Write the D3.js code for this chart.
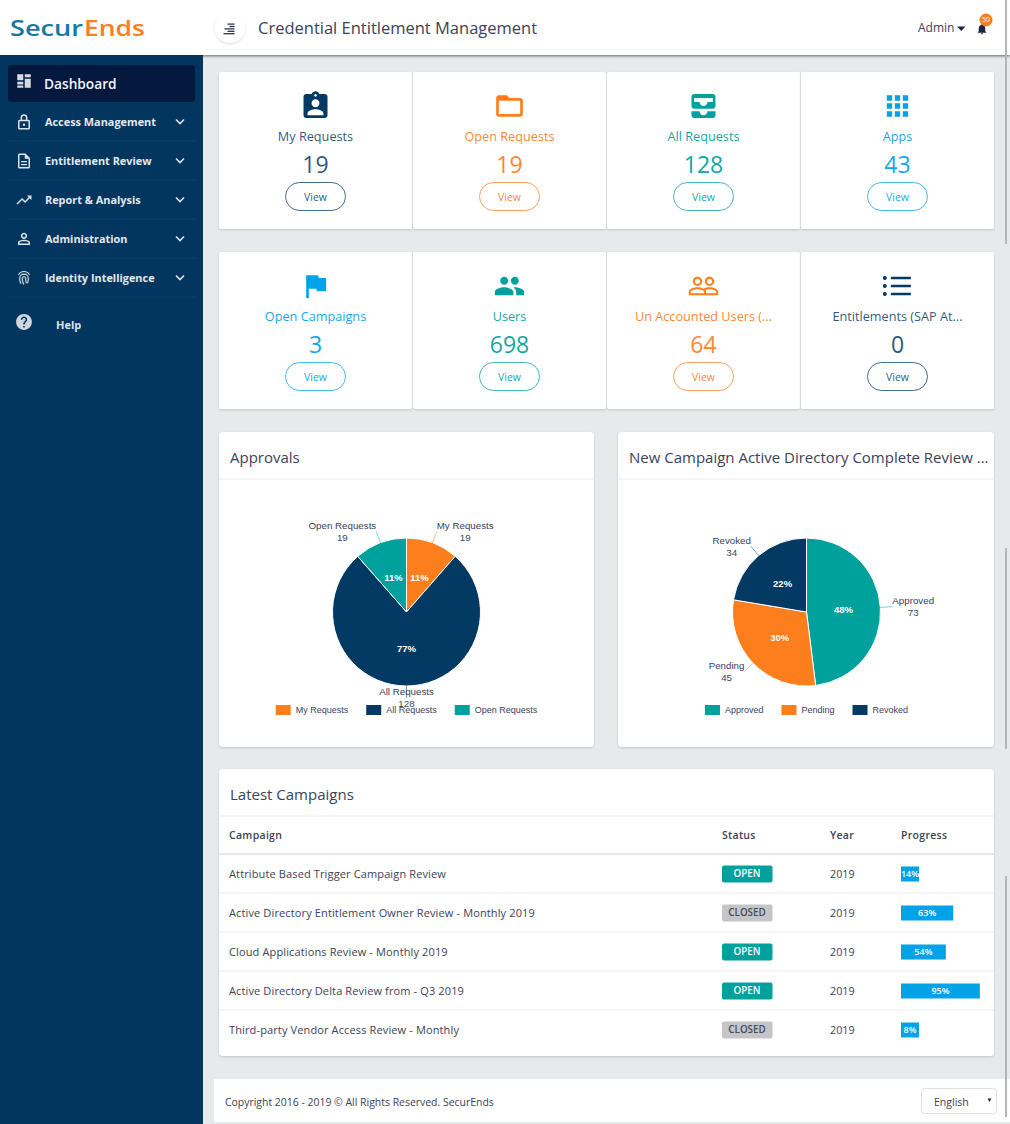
<!DOCTYPE html>
<html>
<head>
<meta charset="utf-8">
<title>SecurEnds Dashboard</title>
<script src="https://cdnjs.cloudflare.com/ajax/libs/d3/7.8.5/d3.min.js"></script>
<style>
html, body { margin: 0; padding: 0; background: #e8e9eb; overflow: hidden; }
svg { display: block; font-family: "Open Sans", sans-serif; }
.pieText { font-family: "Liberation Sans", Arial, sans-serif; }
</style>
</head>
<body>
<svg id="page" width="1010" height="1124"></svg>
<script>
// ---- data ----
const navLabels = ["Access Management", "Entitlement Review", "Report & Analysis", "Administration", "Identity Intelligence"]
const navIcons = ["lock", "doc", "trend", "admin", "finger"]

const cardTitles = ["My Requests", "Open Requests", "All Requests", "Apps", "Open Campaigns", "Users", "Un Accounted Users (...", "Entitlements (SAP At..."]
const cardValues = [19, 19, 128, 43, 3, 698, 64, 0]
const cardTones = ["navy", "orange", "teal", "blue", "blue", "teal", "orange", "navy"]
const cardIcons = ["badge", "folder", "inbox", "apps", "flag", "people", "peopleOutline", "list"]

const approvalLabels = ["My Requests", "All Requests", "Open Requests"]
const approvalValues = [19, 128, 19]
const approvalPercents = ["11%", "77%", "11%"]
const approvalTones = ["orange", "navy", "teal"]

const campaignLabels = ["Approved", "Pending", "Revoked"]
const campaignValues = [73, 45, 34]
const campaignPercents = ["48%", "30%", "22%"]
const campaignTones = ["teal", "orange", "navy"]

const tableColumns = ["Campaign", "Status", "Year", "Progress"]
const rowNames = ["Attribute Based Trigger Campaign Review", "Active Directory Entitlement Owner Review - Monthly 2019", "Cloud Applications Review - Monthly 2019", "Active Directory Delta Review from - Q3 2019", "Third-party Vendor Access Review - Monthly"]
const rowStatus = ["OPEN", "CLOSED", "OPEN", "OPEN", "CLOSED"]
const rowYears = [2019, 2019, 2019, 2019, 2019]
const rowProgress = [14, 63, 54, 95, 8]

const tones = {navy: "#023a63", orange: "#fd7e1c", teal: "#00a19d", blue: "#00a2e8"}
const inkColor = "#3b4259"

const iconPaths = {
    badge: "M19 3h-4.18C14.4 1.84 13.3 1 12 1c-1.3 0-2.4.84-2.82 2H5c-1.1 0-2 .9-2 2v14c0 1.1.9 2 2 2h14c1.1 0 2-.9 2-2V5c0-1.1-.9-2-2-2zm-7 0c.55 0 1 .45 1 1s-.45 1-1 1-1-.45-1-1 .45-1 1-1zm0 4c1.66 0 3 1.34 3 3s-1.34 3-3 3-3-1.34-3-3 1.34-3 3-3zm6 12H6v-1.4c0-2 4-3.1 6-3.1s6 1.1 6 3.1V19z",
    folder: "M20 6h-8l-2-2H4c-1.1 0-1.99.9-1.99 2L2 18c0 1.1.9 2 2 2h16c1.1 0 2-.9 2-2V8c0-1.1-.9-2-2-2zm0 12H4V8h16v10z",
    inbox: "M5 3h14c1.1 0 2 .9 2 2v7c0 1.1-.9 2-2 2H5c-1.1 0-2-.9-2-2V5c0-1.1.9-2 2-2zm0 3v3h4c0 1.62 1.38 3 3 3s3-1.38 3-3h4V6H5zM3 16h6c0 1.66 1.34 3 3 3s3-1.34 3-3h6v3c0 1.1-.9 2-2 2H5c-1.1 0-2-.9-2-2v-3z",
    apps: "M4 8h4V4H4v4zm6 12h4v-4h-4v4zm-6 0h4v-4H4v4zm0-6h4v-4H4v4zm6 0h4v-4h-4v4zm6-10v4h4V4h-4zm-6 4h4V4h-4v4zm6 6h4v-4h-4v4zm0 6h4v-4h-4v4z",
    flag: "M14.4 6L14 4H5v17h2v-7h5.6l.4 2h7V6z",
    people: "M16 11c1.66 0 2.99-1.34 2.99-3S17.66 5 16 5c-1.66 0-3 1.34-3 3s1.34 3 3 3zm-8 0c1.66 0 2.99-1.34 2.99-3S9.66 5 8 5C6.34 5 5 6.34 5 8s1.34 3 3 3zm0 2c-2.33 0-7 1.17-7 3.5V19h14v-2.5c0-2.33-4.67-3.5-7-3.5zm8 0c-.29 0-.62.02-.97.05 1.16.84 1.97 1.97 1.97 3.45V19h6v-2.5c0-2.33-4.67-3.5-7-3.5z",
    peopleOutline: "M16.5 13c-1.2 0-3.07.34-4.5 1-1.43-.67-3.3-1-4.5-1C5.33 13 1 14.08 1 16.25V19h22v-2.75c0-2.17-4.33-3.25-6.5-3.25zm-4 4.5h-10v-1.25c0-.54 2.56-1.75 5-1.75s5 1.21 5 1.75v1.25zm9 0H14v-1.25c0-.46-.2-.86-.52-1.22.88-.3 1.96-.53 3.02-.53 2.44 0 5 1.21 5 1.75v1.25zM7.5 12c1.93 0 3.5-1.57 3.5-3.5S9.43 5 7.5 5 4 6.57 4 8.5 5.57 12 7.5 12zm0-5.5c1.1 0 2 .9 2 2s-.9 2-2 2-2-.9-2-2 .9-2 2-2zm9 5.5c1.93 0 3.5-1.57 3.5-3.5S18.43 5 16.5 5 13 6.57 13 8.5s1.57 3.5 3.5 3.5zm0-5.5c1.1 0 2 .9 2 2s-.9 2-2 2-2-.9-2-2 .9-2 2-2z",
    list: "M7 5h15v2H7zM7 11h15v2H7zM7 17h15v2H7zM2.5 4.5a1.5 1.5 0 1 0 .01 0zM2.5 10.5a1.5 1.5 0 1 0 .01 0zM2.5 16.5a1.5 1.5 0 1 0 .01 0z",
    dashboard: "M3 3h8v8H3zM13 3h8v4h-8zM13 9h8v12h-8zM3 13h8v3.5H3zM3 18h8v3H3z",
    lock: "M12 1.5a4.5 4.5 0 0 0-4.5 4.5v3H6a2 2 0 0 0-2 2v9a2 2 0 0 0 2 2h12a2 2 0 0 0 2-2v-9a2 2 0 0 0-2-2h-1.500V6A4.500 4.500 0 0 0 12 1.500zM9.500 9V6a2.500 2.500 0 0 1 5 0v3zM6 11h12v9H6zm6 3a1.600 1.600 0 1 0 .01 0z",
    doc: "M6 2h8l6 6v12a2 2 0 0 1-2 2H6a2 2 0 0 1-2-2V4a2 2 0 0 1 2-2zm0 2v16h12V9h-5V4zm2 8h8v1.8H8zm0 4h8v1.8H8z",
    trend: "M16 6l2.29 2.29-4.88 4.88-4-4L2 16.59 3.41 18l6-6 4 4 6.3-6.29L22 12V6z",
    admin: "M12 3.5a4.2 4.2 0 1 0 .01 0zm0 2a2.2 2.2 0 1 1-.01 0zM12 13c-3 0-8 1.2-8 3.6V20h16v-3.4C20 14.2 15 13 12 13zm-6 5v-1.4c0-.8 3.5-1.6 6-1.6s6 .8 6 1.600V18z",
    finger: "M12 2.5a9 9 0 0 0-8 5l1.300.7a7.500 7.500 0 0 1 13.400 0l1.300-.7a9 9 0 0 0-8-5zM12 6a6.500 6.500 0 0 0-6.500 6.500c0 3 .8 5.500 2 7.500l1.300-.8c-1.100-1.800-1.800-4.100-1.800-6.700a5 5 0 0 1 10 0c0 2.500-.4 4.500-1 6.500l1.400.4c.7-2.100 1.100-4.400 1.100-6.900A6.500 6.500 0 0 0 12 6zm0 3.500a3 3 0 0 0-3 3c0 3.300.9 6 2.300 8.500l1.300-.7c-1.300-2.300-2.100-4.800-2.100-7.800a1.500 1.500 0 0 1 3 0c0 2.500.2 4.600 1 6.800l1.400-.5c-.7-2-.9-3.900-.9-6.300a3 3 0 0 0-3-3z",
    help: "M12 2C6.48 2 2 6.48 2 12s4.48 10 10 10 10-4.48 10-10S17.52 2 12 2zm1 17h-2v-2h2v2zm2.07-7.750l-.9.92C13.450 12.900 13 13.500 13 15h-2v-.5c0-1.100.45-2.100 1.170-2.830l1.240-1.260c.37-.36.59-.86.59-1.410 0-1.100-.9-2-2-2s-2 .9-2 2H8c0-2.210 1.790-4 4-4s4 1.790 4 4c0 .88-.36 1.680-.93 2.250z",
    bell: "M12 22c1.100 0 2-.9 2-2h-4c0 1.100.9 2 2 2zm6-6v-5c0-3.100-1.640-5.600-4.500-6.300V4c0-.83-.67-1.500-1.500-1.500s-1.500.67-1.500 1.500v.7C7.630 5.400 6 7.900 6 11v5l-2 2v1h16v-1z"
}

let svg = d3.select("#page")

function drawIcon(parent, name, cx, cy, size, color) {
    let k = size / 24
    parent.append("path")
        .attr("d", iconPaths[name])
        .attr("fill", color)
        .attr("fill-rule", "evenodd")
        .attr("transform", `translate(${cx - 12 * k},${cy - 12 * k}) scale(${k})`)
}

function addText(parent, x, y, txt, size, color, opts = {}) {
    return parent.append("text")
        .attr("x", x).attr("y", y)
        .attr("dy", "0.35em")
        .attr("font-size", size)
        .attr("fill", color)
        .attr("text-anchor", opts.anchor || "start")
        .attr("font-weight", opts.weight || 400)
        .text(txt)
}

function initDefs() {
    let defs = svg.append("defs")
    let f = defs.append("filter").attr("id", "cardShadow")
        .attr("x", "-5%").attr("y", "-5%").attr("width", "110%").attr("height", "112%")
    f.append("feDropShadow").attr("dx", 0).attr("dy", 1).attr("stdDeviation", 1.2)
        .attr("flood-color", "#000").attr("flood-opacity", 0.16)
    let h = defs.append("filter").attr("id", "headShadow")
        .attr("x", "-2%").attr("y", "-10%").attr("width", "104%").attr("height", "130%")
    h.append("feDropShadow").attr("dx", 0).attr("dy", 1.5).attr("stdDeviation", 1.2)
        .attr("flood-color", "#000").attr("flood-opacity", 0.45)
}

function drawSidebar() {
    let g = svg.append("g")
    g.append("rect").attr("x", 0).attr("y", 55).attr("width", 203).attr("height", 1069).attr("fill", "#02365f")
    g.append("rect").attr("x", 8).attr("y", 65).attr("width", 187).attr("height", 37).attr("rx", 3).attr("fill", "#05193f")
    drawIcon(g, "dashboard", 24, 81, 18, "#d5dbe2")
    addText(g, 44, 84, "Dashboard", 13.7, "#f2f4f7", {weight: 600})

    let rows = g.selectAll("g.nav").data(navLabels).enter().append("g")
        .attr("class", "nav")
        .attr("transform", (d, i) => `translate(0,${122 + i * 39})`)
    rows.each(function(d, i) {
        let row = d3.select(this)
        drawIcon(row, navIcons[i], 24, 0, 18, "#dde3ea")
        addText(row, 45, 0, d, 10.9, "#e3e8ee", {weight: 700})
        row.append("path").attr("d", "M-4 -2.5L0 1.5L4 -2.5").attr("transform", "translate(180,0)")
            .attr("fill", "none").attr("stroke", "#dde3ea").attr("stroke-width", 1.6)
        row.append("line").attr("x1", 8).attr("x2", 196).attr("y1", 19).attr("y2", 19)
            .attr("stroke", "#0a4170")
    })
    drawIcon(g, "help", 24, 322, 19, "#cfd6de")
    addText(g, 56, 325, "Help", 11, "#dde3ea", {weight: 700})
}

function drawHeader() {
    let g = svg.append("g")
    g.append("rect").attr("x", 0).attr("y", 0).attr("width", 1010).attr("height", 55)
        .attr("fill", "#fff").attr("filter", "url(#headShadow)")
    g.append("rect").attr("x", 0).attr("y", 0).attr("width", 203).attr("height", 56).attr("fill", "#fff")
    addText(g, 10, 29, "Secur", 21, "#15799f", {weight: 600}).attr("textLength", 73).attr("lengthAdjust", "spacingAndGlyphs")
    addText(g, 84, 29, "Ends", 21, "#fd7e1c", {weight: 600}).attr("textLength", 61).attr("lengthAdjust", "spacingAndGlyphs")

    g.append("circle").attr("cx", 230).attr("cy", 28).attr("r", 15).attr("fill", "#fff").attr("filter", "url(#cardShadow)")
    let burgerWidths = [7, 5, 10, 7, 11]
    g.selectAll("rect.burger").data(burgerWidths).enter().append("rect")
        .attr("class", "burger")
        .attr("x", d => 234.5 - d).attr("y", (d, i) => 23.5 + i * 2.4)
        .attr("width", d => d).attr("height", 1.2).attr("fill", "#1c2440")

    addText(g, 258, 28, "Credential Entitlement Management", 16.5, inkColor)
    addText(g, 918, 28, "Admin", 12, inkColor)
    g.append("path").attr("d", "M957 26.5h8.5l-4.25 4.5z").attr("fill", "#1c2440")
    drawIcon(g, "bell", 982, 29, 13, "#1c2440")
    g.append("circle").attr("cx", 986).attr("cy", 20).attr("r", 6.5).attr("fill", "#fd7e1c")
    addText(g, 986, 20, "50", 7, "#fff", {anchor: "middle"})
}

function drawCards() {
    let cardX = d3.scaleBand().domain(d3.range(4)).range([219, 994]).paddingInner(0.005)
    let cardY = d3.scaleBand().domain([0, 1]).range([72, 409]).paddingInner(0.128)

    let cards = svg.selectAll("g.card").data(cardTitles).enter().append("g")
        .attr("class", "card")
        .attr("transform", (d, i) => `translate(${cardX(i % 4)},${cardY(Math.floor(i / 4))})`)

    cards.each(function(d, i) {
        let g = d3.select(this)
        let w = cardX.bandwidth(), mid = w / 2
        let color = tones[cardTones[i]]
        let soft = cardTones[i] === "navy" ? 0.85 : 0.95
        g.append("rect").attr("width", w).attr("height", cardY.bandwidth()).attr("rx", 2)
            .attr("fill", "#fff").attr("filter", "url(#cardShadow)")
        drawIcon(g, cardIcons[i], mid, 34, 32, color)
        addText(g, mid, 65, d, 12.7, color, {anchor: "middle"}).attr("fill-opacity", soft)
        addText(g, mid, 93, cardValues[i], 23, color, {anchor: "middle"}).attr("fill-opacity", soft)
        g.append("rect").attr("x", mid - 30).attr("y", 110.5).attr("width", 60).attr("height", 28).attr("rx", 14)
            .attr("fill", "#fff").attr("stroke", color).attr("stroke-opacity", 0.75)
        addText(g, mid, 125, "View", 10.5, color, {anchor: "middle"}).attr("fill-opacity", soft)
    })
}

function drawPanel(x, y, w, h, headH, title) {
    let g = svg.append("g").attr("transform", `translate(${x},${y})`)
    g.append("rect").attr("width", w).attr("height", h).attr("rx", 4).attr("fill", "#fff").attr("filter", "url(#cardShadow)")
    g.append("line").attr("x1", 0).attr("x2", w).attr("y1", headH).attr("y2", headH).attr("stroke", "#e9ebf0")
    addText(g, 11, 26, title, 15, inkColor)
    return g
}

function drawPie(cx, labels, values, percents, toneNames) {
    let radius = 74, labelRadius = 86, cy = 612
    let g = svg.append("g").attr("class", "pieText").attr("transform", `translate(${cx},${cy})`)
    let pie = d3.pie().sort(null)
    let arc = d3.arc().innerRadius(0).outerRadius(radius)
    let arcs = pie(values)
    let color = d3.scaleOrdinal().domain(labels).range(toneNames.map(t => tones[t]))

    g.selectAll("path").data(arcs).enter().append("path")
        .attr("d", arc)
        .attr("fill", (d, i) => color(labels[i]))
        .attr("stroke", "#fff").attr("stroke-width", 1)

    g.selectAll("text.pct").data(arcs).enter().append("text")
        .attr("class", "pct")
        .attr("transform", d => `translate(${arc.centroid(d)})`)
        .attr("dy", "0.35em").attr("text-anchor", "middle")
        .attr("font-size", 9.5).attr("font-weight", 700).attr("fill", "#fff")
        .text((d, i) => percents[i])

    arcs.forEach((d, i) => {
        let mid = (d.startAngle + d.endAngle) / 2
        let sx = Math.sin(mid), sy = -Math.cos(mid)
        let ex = sx * labelRadius, ey = sy * labelRadius
        g.append("line")
            .attr("x1", sx * radius).attr("y1", sy * radius).attr("x2", ex).attr("y2", ey)
            .attr("stroke", color(labels[i])).attr("stroke-opacity", 0.5)
        let nameText = g.append("text").attr("font-size", 9.75).attr("fill", inkColor)
            .attr("y", ey - 6).attr("dy", "0.35em").text(labels[i])
        let tw = nameText.node().getComputedTextLength()
        let left = Math.abs(sx) < 0.05 ? ex - tw / 2 : (sx > 0 ? ex : ex - tw)
        nameText.attr("x", left)
        g.append("text").attr("font-size", 9.75).attr("fill", inkColor)
            .attr("x", left + tw / 2).attr("y", ey + 6).attr("dy", "0.35em")
            .attr("text-anchor", "middle").text(values[i])
    })

    // legend, centered under the pie
    let legend = g.append("g")
    let cursor = 0
    labels.forEach((name, i) => {
        let item = legend.append("g").attr("transform", `translate(${cursor},0)`)
        item.append("rect").attr("x", 0).attr("y", -5).attr("width", 15).attr("height", 10).attr("fill", color(name))
        let t = item.append("text").attr("x", 20).attr("dy", "0.35em").attr("font-size", 9).attr("fill", inkColor).text(name)
        cursor += 20 + t.node().getComputedTextLength() + (i < labels.length - 1 ? 18 : 0)
    })
    legend.attr("transform", `translate(${-cursor / 2},98)`)
}

function drawTable() {
    let panel = drawPanel(219, 769, 775, 287, 47, "Latest Campaigns")
    let colX = d3.scaleOrdinal().domain(tableColumns).range([10, 503, 611, 682])
    let rowY = d3.scaleBand().domain(d3.range(rowNames.length)).range([85, 280])
    let barX = d3.scaleLinear().domain([0, 100]).range([0, 83])

    panel.selectAll("text.colHead").data(tableColumns).enter().append("text")
        .attr("class", "colHead")
        .attr("x", d => colX(d)).attr("y", 66).attr("dy", "0.35em")
        .attr("font-size", 10.5).attr("font-weight", 600).attr("fill", inkColor).attr("letter-spacing", 0.3)
        .text(d => d)
    panel.append("line").attr("x1", 0).attr("x2", 775).attr("y1", 85).attr("y2", 85).attr("stroke", "#e4e6ea").attr("stroke-width", 2)

    let rows = panel.selectAll("g.row").data(rowNames).enter().append("g")
        .attr("class", "row")
        .attr("transform", (d, i) => `translate(0,${rowY(i)})`)
    let rowMid = rowY.bandwidth() / 2 + 0.5

    rows.filter((d, i) => i < rowNames.length - 1).append("line")
        .attr("x1", 0).attr("x2", 775).attr("y1", rowY.bandwidth()).attr("y2", rowY.bandwidth()).attr("stroke", "#e9ebf0")
    rows.append("text").attr("x", 10).attr("y", rowMid).attr("dy", "0.35em")
        .attr("font-size", 11).attr("fill", inkColor).attr("letter-spacing", 0.13).text(d => d)
    rows.append("rect").attr("x", colX("Status")).attr("y", rowMid - 8.5).attr("width", 50.5).attr("height", 17).attr("rx", 2)
        .attr("fill", (d, i) => rowStatus[i] === "OPEN" ? tones.teal : "#c5c5c7")
    rows.append("text").attr("x", colX("Status") + 25).attr("y", rowMid).attr("dy", "0.35em")
        .attr("text-anchor", "middle").attr("font-size", 9.8).attr("font-weight", 600)
        .attr("fill", (d, i) => rowStatus[i] === "OPEN" ? "#fff" : "#444a5c")
        .text((d, i) => rowStatus[i])
    rows.append("text").attr("x", colX("Year")).attr("y", rowMid).attr("dy", "0.35em")
        .attr("font-size", 10.8).attr("fill", inkColor).text((d, i) => rowYears[i])
    // the bars keep a minimum width so the percent text fits, as in the original
    let barW = i => Math.max(18, barX(rowProgress[i]))
    rows.append("rect").attr("x", colX("Progress")).attr("y", rowMid - 7.5).attr("height", 15)
        .attr("width", (d, i) => barW(i)).attr("fill", tones.blue)
    rows.append("text").attr("x", (d, i) => colX("Progress") + barW(i) / 2).attr("y", rowMid).attr("dy", "0.35em")
        .attr("text-anchor", "middle").attr("font-size", 9).attr("font-weight", 600).attr("fill", "#fff")
        .text((d, i) => rowProgress[i] + "%")
}

function drawFooter() {
    let g = svg.append("g")
    g.append("rect").attr("x", 214).attr("y", 1079).attr("width", 796).attr("height", 43).attr("fill", "#fff")
    addText(g, 225, 1102, "Copyright 2016 - 2019 © All Rights Reserved. SecurEnds", 10.45, inkColor)
    g.append("rect").attr("x", 921.5).attr("y", 1088.5).attr("width", 75).attr("height", 25).attr("rx", 3)
        .attr("fill", "#fff").attr("stroke", "#dfe1e5")
    addText(g, 934, 1102, "English", 10.5, inkColor)
    g.append("path").attr("d", "M987.5 1098.5h4l-2 3.5z").attr("fill", "#1c2440")
}

function drawScrollbar() {
    let segments = [[0, 244], [548, 749], [876, 1117]]
    svg.selectAll("rect.scroll").data(segments).enter().append("rect")
        .attr("class", "scroll")
        .attr("x", 1005).attr("width", 2)
        .attr("y", d => d[0]).attr("height", d => d[1] - d[0])
        .attr("fill", "#b4b6b8")
}

function init() {
    initDefs()
    drawHeader()
    drawSidebar()
    drawCards()
    drawPanel(219, 432, 375, 315, 47, "Approvals")
    drawPanel(618, 432, 376, 315, 47, "New Campaign Active Directory Complete Review ...")
    drawPie(406.5, approvalLabels, approvalValues, approvalPercents, approvalTones)
    drawPie(806.5, campaignLabels, campaignValues, campaignPercents, campaignTones)
    drawTable()
    drawFooter()
    drawScrollbar()
}

window.addEventListener("load", init)
</script>
</body>
</html>
